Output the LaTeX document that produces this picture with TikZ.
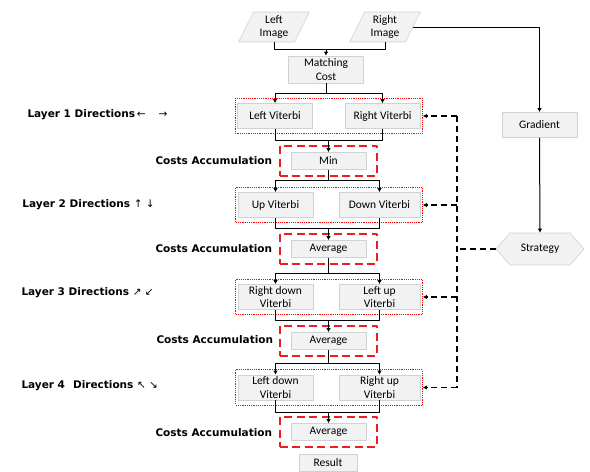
\documentclass[tikz,border=0pt]{standalone}
\usepackage{fontspec}
\setmainfont{Carlito}
\newfontfamily\lblfont{DejaVu Sans}
\usetikzlibrary{arrows.meta,shapes.geometric,shapes.symbols,fit,calc}
\definecolor{accred}{RGB}{235,30,30}
\definecolor{dotred}{RGB}{255,0,0}
\tikzstyle{every path}=[line width=1pt,line join=round]
\tikzset{
  box/.style={draw=black!18,fill=black!5,line width=0.6pt,minimum width=75pt,
    minimum height=25pt,inner sep=0pt,align=center,font=\fontsize{11.5}{13.5}\selectfont},
  smallbox/.style={box,minimum height=17pt},
  imgbox/.style={box,trapezium,trapezium left angle=66,trapezium right angle=114,
    trapezium stretches=true,minimum width=71pt,minimum height=30pt},
  layerbox/.style={draw=dotred,line width=1.2pt,dash pattern=on 1.2pt off 1pt,
    inner xsep=2pt,inner ysep=5pt},
  accbox/.style={draw=accred,line width=1.8pt,dash pattern=on 8pt off 4.5pt,
    inner xsep=11pt,inner ysep=6pt},
  lbl/.style={anchor=west,font=\lblfont\bfseries\fontsize{10.5}{12}\selectfont,inner sep=0pt},
  fb/.style={dash pattern=on 6pt off 4pt,line width=1.3pt},
  >={Latex[length=4pt,width=4.5pt]}
}
\begin{document}
\begin{tikzpicture}[x=1pt,y=-1pt]
\useasboundingbox (0,0) rectangle (590,472);

% inputs
\node[imgbox] (limg) at (274,27) {Left\\Image};
\node[imgbox] (rimg) at (385,27) {Right\\Image};
\node[box,minimum height=27pt] (mc) at (326,69.5) {Matching\\Cost};

% layer 1
\node[box] (lv) at (275,116) {Left Viterbi};
\node[box] (rv) at (382.5,116) {Right Viterbi};
\node[layerbox,fit=(lv)(rv)] (L1) {};
\node[smallbox] (min) at (328.5,161) {Min};
\node[accbox,fit=(min)] (A1) {};

% layer 2
\node[box,minimum width=75pt] (uv) at (275.5,205) {Up Viterbi};
\node[box,minimum width=81pt] (dv) at (379.5,205) {Down Viterbi};
\node[layerbox,fit=(uv)(dv)] (L2) {};
\node[smallbox] (avg1) at (328.5,249) {Average};
\node[accbox,fit=(avg1)] (A2) {};

% layer 3
\node[box,minimum width=75pt] (rdv) at (275.5,297) {Right down\\Viterbi};
\node[box,minimum width=81pt] (luv) at (379.5,297) {Left up\\Viterbi};
\node[layerbox,fit=(rdv)(luv)] (L3) {};
\node[smallbox] (avg2) at (328.5,341) {Average};
\node[accbox,fit=(avg2)] (A3) {};

% layer 4
\node[box,minimum width=75pt] (ldv) at (275.5,387.5) {Left down\\Viterbi};
\node[box,minimum width=81pt] (ruv) at (379.5,387.5) {Right up\\Viterbi};
\node[layerbox,fit=(ldv)(ruv)] (L4) {};
\node[smallbox] (avg3) at (328.5,432) {Average};
\node[accbox,fit=(avg3)] (A4) {};

\node[box,minimum width=58pt,minimum height=17pt] (res) at (328,463) {Result};

% side branch
\node[box] (grad) at (539.5,125) {Gradient};
\node[box,signal,signal to=west and east,signal pointer angle=98,
  minimum width=88pt,minimum height=32pt] (strat) at (540,249) {Strategy};

% labels
\node[lbl] (t1) at (27,115) {Layer 1 Directions\,{\mdseries ←}\hspace{13pt}{\mdseries →}};
\node[lbl] (t2) at (22,205) {Layer 2 Directions {\mdseries ↑ ↓}};
\node[lbl] (t3) at (21,293) {Layer 3 Directions {\mdseries ↗ ↙}};
\node[lbl] (t4) at (21,386) {Layer 4\hspace{8pt}Directions {\mdseries ↖ ↘}};
\node[lbl] (c1) at (155,161) {Costs Accumulation};
\node[lbl] (c2) at (155,249) {Costs Accumulation};
\node[lbl] (c3) at (156,340) {Costs Accumulation};
\node[lbl] (c4) at (155,433) {Costs Accumulation};

% main flow
\draw (limg.south) -- ++(0,7) -| (rimg.south);
\draw[->] (mc.north |- 0,49) -- (mc.north);
\draw (mc.south) -- ++(0,10);
\draw[->] (mc.south |- 0,93) -| (lv.north);
\draw[->] (mc.south |- 0,93) -| (rv.north);
\draw (lv.south) -- ++(0,12) -| (rv.south);
\draw[->] (min.north |- 0,140) -- (min.north);
\draw (min.south) -- ++(0,11);
\draw[->] (min.south |- 0,180) -| (uv.north);
\draw[->] (min.south |- 0,180) -| (dv.north);
\draw (uv.south) -- ++(0,11) -| (dv.south);
\draw[->] (avg1.north |- 0,228) -- (avg1.north);
\draw (avg1.south) -- ++(0,16);
\draw[->] (avg1.south |- 0,273) -| (rdv.north);
\draw[->] (avg1.south |- 0,273) -| (luv.north);
\draw (rdv.south) -- ++(0,11) -| (luv.south);
\draw[->] (avg2.north |- 0,320) -- (avg2.north);
\draw (avg2.south) -- ++(0,13);
\draw[->] (avg2.south |- 0,363) -| (ldv.north);
\draw[->] (avg2.south |- 0,363) -| (ruv.north);
\draw (ldv.south) -- ++(0,12) -| (ruv.south);
\draw[->] (avg3.north |- 0,412) -- (avg3.north);

% gradient / strategy feedback
\draw[->] (rimg.east) -| (grad.north);
\draw[->] (grad.south) -- (strat.north);
\coordinate (bus) at (457,249);
\draw[fb] (strat.west) -- (bus);
\draw[fb] (L1.east -| bus) -- (L4.east -| bus);
\foreach \l in {L1,L2,L3,L4}
  \draw[fb,->] (\l.east -| bus) -- (\l.east);
\end{tikzpicture}
\end{document}
